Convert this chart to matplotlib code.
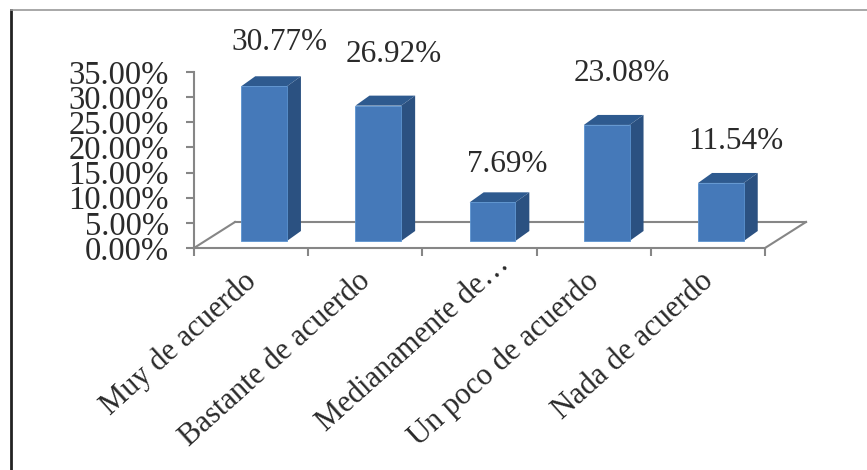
import matplotlib
matplotlib.use("Agg")
import matplotlib.pyplot as plt
from matplotlib.patches import Polygon
from matplotlib.transforms import ScaledTranslation

# values
categories = ["Muy de acuerdo", "Bastante de acuerdo", "Medianamente de…", "Un poco de acuerdo", "Nada de acuerdo"]
values = [30.77, 26.92, 7.69, 23.08, 11.54]
labels = ["30.77%", "26.92%", "7.69%", "23.08%", "11.54%"]
y_ticks = [0, 5, 10, 15, 20, 25, 30, 35]
y_tick_labels = ["0.00%", "5.00%", "10.00%", "15.00%", "20.00%", "25.00%", "30.00%", "35.00%"]
label_gap = [43, 50, 37, 50, 40]

plt.rcParams["font.family"] = ["Liberation Serif", "DejaVu Serif"]
W, H = 867, 470
fig = plt.figure(figsize=(W / 100, H / 100), dpi=100)
ax = fig.add_axes([194 / W, (H - 248) / H, 571 / W, 176 / H])
ax.set_xlim(0, 5)
ax.set_ylim(0, 35)
ax.patch.set_alpha(0)


# shift in pixels on top of data coordinates (y up)
def shifted(dx, dy):
    return ax.transData + ScaledTranslation(dx / 100, dy / 100, fig.dpi_scale_trans)


axis_col = "#868686"
text_col = "#2a2a2a"
bar_w = 0.4
depth_x, depth_y = 14, 10
base_x, base_y = 13, 7
px_per_x = 571 / 5
px_per_y = 176 / 35

# floor
back_x, back_y = 41, 26
ax.plot([0, 5], [0, 0], color=axis_col, lw=1.5, clip_on=False, transform=shifted(back_x, back_y))
for x_end in [0, 5]:
    ax.plot([x_end, x_end + back_x / px_per_x], [0, back_y / px_per_y], color=axis_col, lw=1.5, clip_on=False)

# bars
for i, v in enumerate(values):
    x0 = i + 0.5 - bar_w / 2
    x1 = x0 + bar_w
    t = shifted(base_x, base_y)
    dx = depth_x / px_per_x
    dy = depth_y / px_per_y
    ax.add_patch(Polygon([(x1, 0), (x1 + dx, dy), (x1 + dx, v + dy), (x1, v)], facecolor="#2b5181",
                         edgecolor="none", transform=t, clip_on=False, zorder=3))
    ax.add_patch(Polygon([(x0, v), (x0 + dx, v + dy), (x1 + dx, v + dy), (x1, v)], facecolor="#2e5a8f",
                         edgecolor="none", transform=t, clip_on=False, zorder=3))
    ax.bar(i + 0.5, v, width=bar_w, color="#4579b9", edgecolor="#5b93d0", linewidth=0.6, transform=t,
           clip_on=False, zorder=4)
    ax.text(i + 0.5, v, labels[i], fontsize=22.5, color=text_col, ha="center", va="center", clip_on=False,
            transform=shifted(base_x + 15, base_y + label_gap[i] + 1))

# axes
for side in ["top", "right"]:
    ax.spines[side].set_visible(False)
for side in ["left", "bottom"]:
    ax.spines[side].set_color(axis_col)
    ax.spines[side].set_linewidth(1.5)
ax.set_yticks(y_ticks)
ax.set_yticklabels(y_tick_labels, fontsize=23.5, color=text_col)
ax.tick_params(axis="y", length=6, width=1.5, color=axis_col, pad=12)
ax.set_xticks(range(6))
ax.set_xticklabels([])
ax.tick_params(axis="x", length=6, width=1.5, color=axis_col)
for i, name in enumerate(categories):
    # the truncated label runs further out along its slant
    offset = (12, -1) if name.endswith("…") else (-6, -13)
    ax.annotate(name, (i + 0.5, 0), xytext=offset, textcoords="offset points", fontsize=22, color=text_col,
                rotation=42, rotation_mode="anchor", ha="right", va="top", annotation_clip=False)

# picture frame
fig.add_artist(plt.Line2D([11 / W, 11 / W], [0, 1 - 10 / H], color="#222222", lw=2))
fig.add_artist(plt.Line2D([11 / W, 1], [1 - 10 / H, 1 - 10 / H], color="#999999", lw=1.2))

fig.savefig("out.png", dpi=100)
